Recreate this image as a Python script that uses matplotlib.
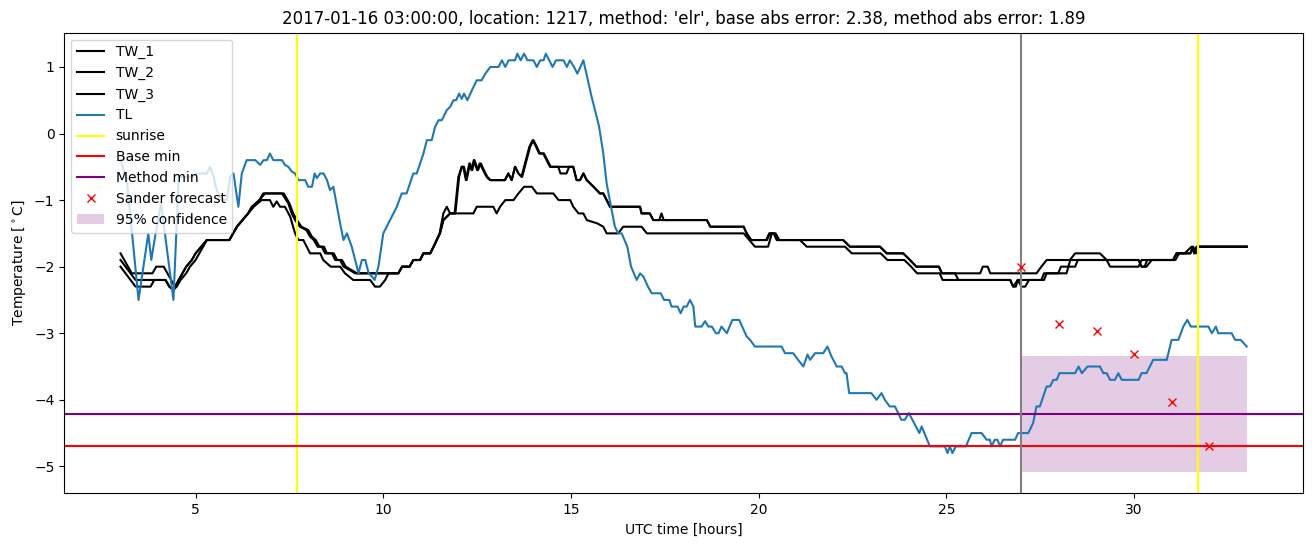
import numpy as np
import matplotlib
matplotlib.use("Agg")
import matplotlib.pyplot as plt

# ---------------- data (hours UTC, temperature in degC) ----------------
tl_t = [3.0, 3.17, 3.48, 3.74, 3.82, 3.92, 4.08, 4.41, 4.55, 4.94, 5.03, 5.3, 5.39, 5.48, 5.56,
        5.7, 5.83, 5.92, 6.01, 6.14, 6.23, 6.36, 6.59, 6.72, 6.81, 6.9, 6.98, 7.07, 7.3, 7.38,
        7.47, 7.56, 7.65, 7.74, 7.92, 8.0, 8.1, 8.17, 8.23, 8.32, 8.41, 8.5, 8.58, 8.67, 8.85,
        8.94, 9.03, 9.16, 9.25, 9.34, 9.43, 9.52, 9.61, 9.7, 9.77, 9.87, 10.0, 10.18, 10.36,
        10.49, 10.62, 10.71, 10.8, 10.89, 10.98, 11.07, 11.16, 11.29, 11.38, 11.47, 11.56,
        11.69, 11.78, 11.87, 11.94, 12.02, 12.09, 12.15, 12.24, 12.36, 12.49, 12.62, 12.72,
        12.85, 13.07, 13.16, 13.25, 13.34, 13.51, 13.57, 13.66, 13.75, 13.84, 14.0, 14.09,
        14.18, 14.27, 14.33, 14.42, 14.51, 14.6, 14.8, 14.89, 14.97, 15.08, 15.17, 15.33,
        15.55, 15.75, 15.86, 15.95, 16.05, 16.17, 16.26, 16.35, 16.5, 16.6, 16.75, 16.84,
        16.93, 17.05, 17.15, 17.39, 17.48, 17.62, 17.68, 17.84, 17.92, 18.0, 18.08, 18.17,
        18.26, 18.31, 18.48, 18.57, 18.66, 18.75, 18.86, 18.93, 19.01, 19.08, 19.15, 19.3,
        19.48, 19.68, 19.77, 19.9, 20.61, 20.7, 20.92, 21.05, 21.19, 21.3, 21.37, 21.5, 21.72,
        21.83, 21.94, 22.08, 22.21, 22.3, 22.34, 22.41, 23.0, 23.14, 23.27, 23.36, 23.49,
        23.63, 23.8, 23.89, 24.0, 24.28, 24.34, 24.56, 24.96, 25.03, 25.09, 25.16, 25.25,
        25.52, 25.67, 25.94, 26.07, 26.16, 26.2, 26.29, 26.36, 26.43, 26.51, 26.83, 26.91,
        27.18, 27.31, 27.4, 27.49, 27.58, 27.67, 27.76, 27.85, 27.94, 28.01, 28.43, 28.52,
        28.61, 28.76, 29.09, 29.18, 29.27, 29.36, 29.49, 29.58, 29.67, 30.12, 30.2, 30.33,
        30.51, 30.87, 31.0, 31.18, 31.31, 31.42, 31.51, 31.98, 32.07, 32.18, 32.24, 32.6,
        32.69, 32.84, 33.0]
tl_v = [-0.4, -0.7, -2.5, -1.5, -1.9, -1.55, -1.05, -2.5, -0.65, -0.65, -0.6, -0.6, -0.5, -0.65, -0.85,
        -1.0, -1.0, -0.65, -0.6, -1.1, -0.6, -0.4, -0.4, -0.47, -0.4, -0.4, -0.3, -0.4, -0.4, -0.47,
        -0.5, -0.57, -0.6, -0.7, -0.7, -0.8, -0.8, -0.6, -0.67, -0.6, -0.6, -0.7, -0.85, -0.8, -1.35,
        -1.6, -1.5, -1.7, -1.9, -2.1, -1.9, -1.9, -2.1, -2.15, -2.2, -2.0, -1.5, -1.3, -1.1,
        -0.9, -0.9, -0.75, -0.6, -0.6, -0.45, -0.3, -0.1, -0.1, 0.1, 0.2, 0.2,
        0.35, 0.4, 0.5, 0.5, 0.6, 0.52, 0.6, 0.5, 0.65, 0.8, 0.8, 0.9,
        1.0, 1.0, 1.1, 1.0, 1.1, 1.1, 1.2, 1.1, 1.2, 1.1, 1.1, 1.0,
        1.1, 1.1, 1.2, 1.1, 1.0, 1.1, 1.1, 1.0, 1.1, 1.0, 0.9, 1.1,
        0.55, 0.1, -0.3, -0.75, -1.05, -1.4, -1.5, -1.5, -1.7, -2.0, -2.2, -2.1,
        -2.15, -2.3, -2.4, -2.4, -2.5, -2.5, -2.6, -2.6, -2.7, -2.6, -2.6, -2.5,
        -2.6, -2.9, -2.9, -2.82, -2.9, -2.9, -3.0, -3.0, -2.9, -2.95, -3.0, -2.8,
        -2.8, -3.05, -3.1, -3.2, -3.2, -3.3, -3.3, -3.4, -3.5, -3.32, -3.4, -3.3, -3.3,
        -3.2, -3.35, -3.5, -3.5, -3.6, -3.6, -3.9, -3.9, -4.0, -3.9, -4.0, -4.1,
        -4.1, -4.3, -4.3, -4.2, -4.5, -4.4, -4.7, -4.7, -4.8, -4.7, -4.8, -4.7,
        -4.7, -4.5, -4.5, -4.6, -4.6, -4.7, -4.6, -4.6, -4.7, -4.6, -4.6, -4.5,
        -4.5, -4.35, -4.1, -4.1, -3.95, -3.8, -3.8, -3.7, -3.7, -3.6, -3.6, -3.5,
        -3.6, -3.5, -3.5, -3.6, -3.6, -3.7, -3.7, -3.6, -3.7, -3.7, -3.6, -3.6,
        -3.4, -3.4, -3.1, -3.1, -2.9, -2.8, -2.9, -2.9, -3.0, -2.9, -3.0, -3.0,
        -3.1, -3.1, -3.2]

tw1_t = [3.0, 3.3, 3.85, 3.95, 4.15, 4.25, 4.45, 4.55, 4.65, 4.75, 4.9, 5.0, 5.15, 5.3, 5.9,
         6.0, 6.1, 6.25, 6.4, 6.5, 6.6, 6.7, 6.8, 7.3, 7.47, 7.56, 7.65, 7.78, 7.95, 8.05, 8.15,
         8.25, 8.36, 8.45, 8.63, 8.72, 8.85, 8.94, 9.1, 9.25, 10.4, 10.5, 10.7, 10.8, 10.98,
         11.07, 11.25, 11.34, 11.51, 11.6, 11.78, 11.9, 12.0, 12.09, 12.13, 12.2, 12.29, 12.35,
         12.41, 12.5, 12.57, 12.66, 12.75, 12.84, 13.24, 13.33, 13.42, 13.51, 13.6, 13.68,
         13.82, 13.89, 13.98, 14.07, 14.15, 14.26, 14.35, 14.44, 15.06, 15.15, 15.24, 15.33,
         15.42, 15.6, 15.77, 15.86, 15.95, 16.04, 16.84, 16.88, 17.1, 17.19, 18.62, 18.71,
         19.6, 19.68, 19.8, 20.2, 20.28, 20.4, 20.48, 22.25, 22.43, 23.23, 23.41, 23.85,
         24.03, 24.2, 24.8, 24.88, 25.9, 25.97, 26.1, 26.17, 27.4, 27.53, 27.67, 28.29, 28.43,
         29.09, 29.27, 30.12, 30.2, 30.33, 30.47, 31.04, 31.13, 31.35, 31.53, 31.6, 31.66,
         33.0]
tw1_v = [-1.8, -2.1, -2.1, -2.0, -2.0, -2.1, -2.3, -2.2, -2.1, -2.0, -1.9, -1.8, -1.7, -1.6, -1.6,
         -1.5, -1.4, -1.3, -1.2, -1.1, -1.05, -1.0, -0.9, -0.9, -1.05, -1.2, -1.3, -1.4, -1.45, -1.55, -1.6,
         -1.7, -1.7, -1.8, -1.8, -1.9, -1.9, -2.0, -2.05, -2.1, -2.1, -2.0, -2.0, -1.9, -1.9,
         -1.8, -1.8, -1.7, -1.5, -1.3, -1.2, -1.2, -0.65, -0.5, -0.5, -0.7, -0.45, -0.55,
         -0.4, -0.55, -0.45, -0.55, -0.65, -0.7, -0.7, -0.6, -0.7, -0.5, -0.6, -0.65,
         -0.35, -0.2, -0.1, -0.2, -0.3, -0.3, -0.4, -0.5, -0.5, -0.7, -0.7, -0.6,
         -0.7, -0.8, -0.9, -0.9, -1.0, -1.1, -1.1, -1.2, -1.2, -1.3, -1.3, -1.4,
         -1.4, -1.5, -1.6, -1.6, -1.5, -1.5, -1.6, -1.6, -1.7, -1.7, -1.8, -1.8,
         -1.9, -2.0, -2.0, -2.1, -2.1, -2.0, -2.0, -2.1, -2.1, -2.0, -1.9, -1.9, -1.8,
         -1.8, -1.9, -1.9, -2.0, -2.0, -1.9, -1.9, -1.8, -1.8, -1.7, -1.8, -1.7,
         -1.7]

tw2_t = [3.0, 3.4, 4.2, 4.3, 4.42, 4.55, 4.65, 4.75, 4.9, 5.0, 5.15, 5.3, 5.9,
         6.0, 6.1, 6.25, 6.4, 6.5, 6.6, 6.7, 6.85, 7.35, 7.5, 7.6, 7.7, 7.82, 8.0, 8.1, 8.2,
         8.3, 8.42, 8.5, 8.68, 8.77, 8.9, 9.0, 9.15, 9.3, 10.4, 10.5, 10.7, 10.8, 10.98,
         11.07, 11.25, 11.34, 11.51, 11.6, 11.78, 11.92, 12.02, 12.09, 12.15, 12.22, 12.31, 12.37,
         12.43, 12.52, 12.6, 12.68, 12.77, 12.86, 13.24, 13.33, 13.42, 13.51, 13.6, 13.7,
         13.84, 13.91, 14.0, 14.09, 14.17, 14.28, 14.37, 14.46, 14.66, 14.72, 14.88, 14.95,
         15.06, 15.15, 15.24, 15.33, 15.42, 15.6, 15.77, 15.86, 15.95, 16.04, 16.84, 16.88,
         17.1, 17.19, 17.35, 17.41, 17.47, 18.62, 18.71, 19.6, 19.68, 19.8, 20.22, 20.3,
         20.42, 20.5, 21.1, 21.28, 22.3, 22.48, 23.25, 23.43, 23.88, 24.06, 24.22, 24.82,
         24.9, 25.23, 25.32, 26.7, 26.78, 26.9, 27.0, 27.1, 27.2, 27.53, 27.6, 28.2, 28.3,
         29.27, 29.36, 30.12, 30.2, 31.1, 31.2, 31.5, 31.57, 31.62, 31.7, 31.78, 33.0]
tw2_v = [-1.9, -2.2, -2.2, -2.3, -2.35, -2.2, -2.1, -2.0, -1.9, -1.8, -1.7, -1.6, -1.6,
         -1.5, -1.4, -1.3, -1.2, -1.1, -1.05, -1.0, -0.9, -0.9, -1.05, -1.2, -1.3, -1.4, -1.45, -1.55, -1.6,
         -1.7, -1.7, -1.8, -1.8, -1.9, -1.9, -2.0, -2.05, -2.1, -2.1, -2.0, -2.0, -1.9, -1.9,
         -1.8, -1.8, -1.7, -1.5, -1.3, -1.2, -1.2, -0.65, -0.5, -0.5, -0.7, -0.45, -0.55,
         -0.4, -0.55, -0.45, -0.55, -0.65, -0.7, -0.7, -0.6, -0.7, -0.5, -0.6, -0.65,
         -0.35, -0.2, -0.1, -0.2, -0.3, -0.3, -0.4, -0.5, -0.5, -0.6, -0.6, -0.5,
         -0.5, -0.7, -0.7, -0.6, -0.7, -0.8, -0.9, -0.9, -1.0, -1.1, -1.1, -1.2,
         -1.2, -1.3, -1.3, -1.2, -1.3, -1.3, -1.4, -1.4, -1.5, -1.6, -1.6, -1.5,
         -1.5, -1.6, -1.6, -1.7, -1.7, -1.8, -1.8, -1.9, -1.9, -2.0, -2.1, -2.1,
         -2.2, -2.2, -2.2, -2.2, -2.3, -2.2, -2.3, -2.3, -2.2, -2.2, -2.1, -2.1, -1.9,
         -1.9, -2.0, -2.0, -1.9, -1.9, -1.8, -1.8, -1.7, -1.8, -1.7, -1.7, -1.7]

tw3_t = [3.0, 3.4, 3.8, 3.9, 4.2, 4.3, 4.4, 4.5, 4.6, 4.75, 4.85, 5.0, 5.1, 5.2, 5.3, 5.9,
         6.0, 6.1, 6.25, 6.4, 6.55, 6.76, 6.98, 7.07, 7.16, 7.25, 7.38, 7.52, 7.65, 7.74, 7.87,
         8.05, 8.32, 8.4, 8.6, 8.85, 8.98, 9.2, 9.65, 9.78, 9.91, 10.05, 10.14, 10.4, 10.5,
         10.7, 10.8, 10.98, 11.07, 11.25, 11.34, 11.5, 11.6, 11.69, 11.78, 12.4, 12.49, 12.93,
         13.02, 13.11, 13.25, 13.47, 13.6, 13.75, 13.96, 14.09, 14.53, 14.67, 14.98, 15.06,
         15.2, 15.33, 15.42, 15.7, 15.86, 15.95, 16.26, 16.39, 16.88, 17.02, 19.6, 19.75, 19.9,
         20.25, 20.35, 20.45, 20.55, 21.1, 21.28, 22.25, 22.43, 23.23, 23.41, 23.85, 24.03, 24.2,
         24.8, 24.88, 25.23, 25.32, 26.7, 26.78, 26.85, 26.9, 27.05, 27.12, 27.6, 27.67,
         27.98, 28.05, 28.43, 28.5, 29.1, 29.2, 30.12, 30.2, 30.28, 30.35, 31.04, 31.13, 31.5,
         31.57, 31.65, 31.72, 31.8, 33.0]
tw3_v = [-2.0, -2.3, -2.3, -2.2, -2.2, -2.3, -2.35, -2.3, -2.2, -2.1, -2.0, -1.9, -1.8, -1.7, -1.6, -1.6,
         -1.5, -1.4, -1.3, -1.2, -1.1, -1.0, -1.0, -1.1, -1.02, -1.1, -1.1, -1.25, -1.5, -1.6, -1.6,
         -1.8, -1.8, -1.9, -2.0, -2.0, -2.1, -2.2, -2.2, -2.3, -2.3, -2.2, -2.1, -2.1, -2.0,
         -2.0, -1.9, -1.9, -1.8, -1.8, -1.7, -1.5, -1.2, -1.1, -1.2, -1.2, -1.1, -1.1,
         -1.2, -1.1, -1.0, -1.0, -0.9, -0.8, -0.8, -0.9, -0.9, -1.0, -1.0, -1.1,
         -1.2, -1.2, -1.3, -1.35, -1.4, -1.5, -1.5, -1.4, -1.4, -1.5, -1.5, -1.6, -1.7,
         -1.7, -1.5, -1.5, -1.6, -1.6, -1.6, -1.6, -1.7, -1.7, -1.8, -1.8, -1.9, -2.0,
         -2.0, -2.1, -2.1, -2.2, -2.2, -2.3, -2.3, -2.2, -2.2, -2.2, -2.2, -2.1,
         -2.1, -2.0, -2.0, -1.9, -1.9, -1.9, -1.9, -2.0, -2.0, -1.9, -1.9, -1.8, -1.8,
         -1.7, -1.8, -1.7, -1.7, -1.7]

sunrise_hours = [7.69, 31.69]
forecast_hour = 27.0
base_min = -4.70
method_min = -4.22
sander_hours = [27, 28, 29, 30, 31, 32]
sander_values = [-2.0, -2.86, -2.96, -3.31, -4.04, -4.70]
conf_hours = [27.0, 33.0]
conf_low = -5.09
conf_high = -3.34

title = ("2017-01-16 03:00:00, location: 1217, method: 'elr', "
         "base abs error: 2.38, method abs error: 1.89")

# ---------------- plot ----------------
fig = plt.figure(figsize=(13.13, 5.47), dpi=100)
ax = fig.add_axes([0.0489, 0.0982, 0.9435, 0.842])

ax.plot(tw1_t, tw1_v, color="black", label="TW_1")
ax.plot(tw2_t, tw2_v, color="black", label="TW_2")
ax.plot(tw3_t, tw3_v, color="black", label="TW_3")
ax.plot(tl_t, tl_v, color="C0", label="TL")
for i, s in enumerate(sunrise_hours):
    ax.axvline(s, color="yellow", label="sunrise" if i == 0 else None)
ax.axhline(base_min, color="red", label="Base min")
ax.axhline(method_min, color="purple", label="Method min")
ax.axvline(forecast_hour, color="gray")
ax.plot(sander_hours, sander_values, "x", color="red", label="Sander forecast")
ax.fill_between(conf_hours, [conf_low, conf_low], [conf_high, conf_high],
                color="purple", alpha=0.2, linewidth=0, label="95% confidence")

ax.set_title(title)
ax.set_xlabel("UTC time [hours]")
ax.set_ylabel(r"Temperature [$^\circ$C]")
ax.legend(loc="upper left")

fig.savefig("out.png", dpi=100)
